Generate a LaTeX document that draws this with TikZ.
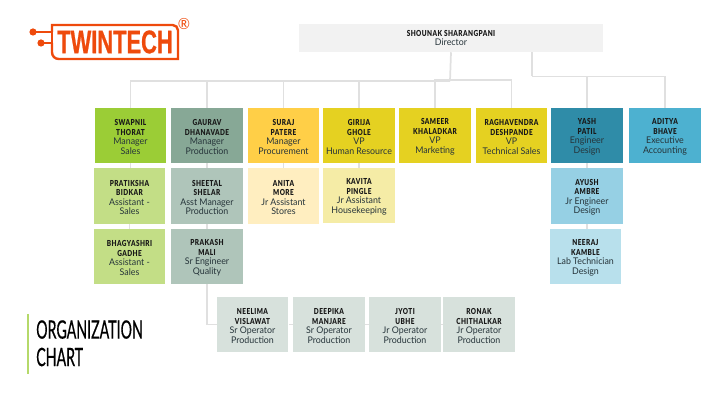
\documentclass[tikz,border=0pt]{standalone}
\usepackage{fontspec}
\setmainfont[FakeStretch=0.96]{Lato}
\newfontfamily\namefont[FakeStretch=0.78,LetterSpace=5]{Lato Black}
\newfontfamily\titlefont[FakeStretch=0.56,FakeBold=0.4]{Lato}
\newfontfamily\logofont[FakeStretch=0.67,FakeBold=0.6]{Liberation Sans}
\usepackage{tikz}
\usetikzlibrary{positioning,calc}
\definecolor{linegray}{HTML}{E0E0E0}
\definecolor{logoorange}{HTML}{EE4A0C}
\definecolor{inktext}{HTML}{26343A}
\newcommand{\nm}[1]{{\namefont\color{black!90}\fontsize{6.2}{7.1}\selectfont #1}}
\newcommand{\topnm}[1]{\nm{\rule{0pt}{6.7pt}#1}}
\tikzset{
  staff/.style={inner sep=0pt,minimum width=53.6pt,minimum height=41.3pt,align=center,
    text=inktext,font=\fontsize{6.9}{7.1}\selectfont},
  wire/.style={draw=linegray,line width=1.3pt},
}

\begin{document}
\begin{tikzpicture}[x=0.75pt,y=-0.75pt]
  \useasboundingbox (0,0) rectangle (713,402);
  % top of the chart
  \node[staff,fill=black!5,minimum width=228pt,minimum height=21pt] (director) at (451,38)
    {\nm{SHOUNAK SHARANGPANI}\\Director};
  \node[staff,fill={rgb,255:red,155;green,205;blue,54}] (swapnil) at (130.5,135.5)
    {\topnm{SWAPNIL}\\\nm{THORAT}\\Manager\\Sales};
  \node[staff,fill={rgb,255:red,135;green,168;blue,150}] (gaurav) at (207,135.5)
    {\topnm{GAURAV}\\\nm{DHANAVADE}\\Manager\\Production};
  \node[staff,fill={rgb,255:red,255;green,207;blue,71}] (suraj) at (283.5,135.5)
    {\topnm{SURAJ}\\\nm{PATERE}\\Manager\\Procurement};
  \node[staff,fill={rgb,255:red,229;green,209;blue,33}] (girija) at (359,135.5)
    {\topnm{GIRIJA}\\\nm{GHOLE}\\VP\\Human Resource};
  \node[staff,fill={rgb,255:red,229;green,209;blue,33}] (sameer) at (435,135.5)
    {\topnm{SAMEER}\\\nm{KHALADKAR}\\VP\\Marketing};
  \node[staff,fill={rgb,255:red,229;green,209;blue,33}] (raghavendra) at (511.5,135.5)
    {\topnm{RAGHAVENDRA}\\\nm{DESHPANDE}\\VP\\Technical Sales};
  \node[staff,fill={rgb,255:red,47;green,140;blue,168}] (yash) at (587,135.5)
    {\topnm{YASH}\\\nm{PATIL}\\Engineer\\Design};
  \node[staff,fill={rgb,255:red,77;green,177;blue,208}] (aditya) at (665,135.5)
    {\topnm{ADITYA}\\\nm{BHAVE}\\Executive\\Accounting};
  % second row
  \node[staff,fill={rgb,255:red,195;green,222;blue,134}] (pratiksha) at (129.5,196)
    {\topnm{PRATIKSHA}\\\nm{BIDKAR}\\Assistant -\\Sales};
  \node[staff,fill={rgb,255:red,175;green,197;blue,186}] (sheetal) at (207,196)
    {\topnm{SHEETAL}\\\nm{SHELAR}\\Asst Manager\\Production};
  \node[staff,fill={rgb,255:red,255;green,238;blue,192}] (anita) at (283.5,196)
    {\topnm{ANITA}\\\nm{MORE}\\Jr Assistant\\Stores};
  \node[staff,fill={rgb,255:red,245;green,236;blue,166}] (kavita) at (359,195.5)
    {\topnm{KAVITA}\\\nm{PINGLE}\\Jr Assistant\\Housekeeping};
  \node[staff,fill={rgb,255:red,150;green,208;blue,228}] (ayush) at (587,196)
    {\topnm{AYUSH}\\\nm{AMBRE}\\Jr Engineer\\Design};
  % third row
  \node[staff,fill={rgb,255:red,195;green,222;blue,134}] (bhagyashri) at (129.5,256.5)
    {\topnm{BHAGYASHRI}\\\nm{GADHE}\\Assistant -\\Sales};
  \node[staff,fill={rgb,255:red,175;green,197;blue,186}] (prakash) at (207,256.5)
    {\topnm{PRAKASH}\\\nm{MALI}\\Sr Engineer\\Quality};
  \node[staff,fill={rgb,255:red,184;green,224;blue,236}] (neeraj) at (585.5,256.5)
    {\topnm{NEERAJ}\\\nm{KAMBLE}\\Lab Technician\\Design};
  % operators
  \node[staff,fill={rgb,255:red,215;green,225;blue,220}] (neelima) at (252.5,324.5)
    {\topnm{NEELIMA}\\\nm{VISLAWAT}\\Sr Operator\\Production};
  \node[staff,fill={rgb,255:red,215;green,225;blue,220}] (deepika) at (329,324.5)
    {\topnm{DEEPIKA}\\\nm{MANJARE}\\Sr Operator\\Production};
  \node[staff,fill={rgb,255:red,215;green,225;blue,220}] (jyoti) at (405,324.5)
    {\topnm{JYOTI}\\\nm{UBHE}\\Jr Operator\\Production};
  \node[staff,fill={rgb,255:red,215;green,225;blue,220}] (ronak) at (479,324.5)
    {\topnm{RONAK}\\\nm{CHITHALKAR}\\Jr Operator\\Production};
  % connectors
  \coordinate (busleft) at (450,81);
  \coordinate (busright) at (532,76.5);
  \draw[wire] (director.south) -- (busleft);
  \foreach \who in {swapnil,gaurav,suraj,girija}
    \draw[wire] (busleft) -| (\who.north);
  \draw[wire] (sameer.north) -- ++(0,-28) -| (raghavendra.north);
  \draw[wire] (director.south -| busright) -- (busright);
  \draw[wire] (busright) -| (yash.north);
  \draw[wire] (busright) -| (aditya.north);
  \draw[wire] (swapnil.south) -- (swapnil.south |- pratiksha.north);
  \draw[wire] (gaurav) -- (sheetal);
  \draw[wire] (suraj) -- (anita);
  \draw[wire] (girija) -- (kavita);
  \draw[wire] (pratiksha) -- (bhagyashri);
  \draw[wire] (sheetal) -- (prakash);
  \draw[wire] (yash) -- (ayush);
  \draw[wire] (ayush.south) -- (ayush.south |- neeraj.north);
  \draw[wire] (prakash.south) |- (neelima.west);
  \draw[wire] (neelima) -- (deepika);
  \draw[wire] (deepika) -- (jyoti);
  \draw[wire] (jyoti) -- (ronak);
  % title
  \node[inner sep=0pt,text=black,anchor=north west,align=left,
    font=\titlefont\fontsize{19}{20.6}\selectfont] (title) at (36,320) {ORGANIZATION\\CHART};
  \draw[line width=1.2pt,color={rgb,255:red,181;green,217;blue,106}] (28,314) -- (28,374);
  % logo
  \draw[logoorange,line width=1.8pt] (52,32) -- (52,25) -- (170,25) [rounded corners=4pt] -- (178,25) -- (178,32);
  \draw[logoorange,line width=1.8pt] (178,32) -- (178,59) -- (62,59) [rounded corners=5pt] -- (52,59) -- (52,43);
  \draw[logoorange,line width=1.8pt] (33,32) -- (52,32) (41,43) -- (52,43) (52,32) -- (52,43);
  \fill[logoorange] (33,32) circle (3.6);
  \fill[logoorange] (41,43) circle (3.6);
  \node[inner sep=0pt,text=logoorange,font=\logofont\bfseries\fontsize{24.5}{25}\selectfont] (logo) at (115,42) {TWINTECH};
  \node[inner sep=0pt,text=logoorange,font=\fontsize{11.5}{11.5}\selectfont] (regmark) at (184,24.5) {®};
\end{tikzpicture}
\end{document}
